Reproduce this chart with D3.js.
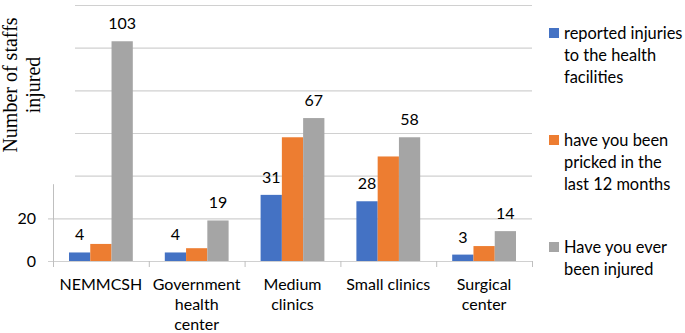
<!DOCTYPE html>
<html>
<head>
<meta charset="utf-8">
<script src="https://cdn.jsdelivr.net/npm/d3@7"></script>
<style>
  body { margin: 0; background: #fff; }
  svg { display: block; }
  text { font-family: Lato, "Open Sans", sans-serif; fill: #000; }
</style>
</head>
<body>
<div id="chart"></div>
<script>
// data
const categories = [["NEMMCSH"], ["Government", "health", "center"], ["Medium", "clinics"], ["Small clinics"], ["Surgical", "center"]];
const reported = [4, 4, 31, 28, 3];
const pricked = [8, 6, 58, 49, 7];
const everInjured = [103, 19, 67, 58, 14];
const seriesNames = [
  ["reported injuries", "to the health", "facilities"],
  ["have you been", "pricked in the", "last 12 months"],
  ["Have you ever", "been injured"]
];
const colors = ["#4472c4", "#ed7d31", "#a5a5a5"];
const gridTicks = [0, 20, 40, 60, 80, 100, 120];
const labelTicks = [0, 20];

const W = 685, H = 333;
const margin = { top: 5, right: 153, bottom: 72, left: 53 };
const width = W - margin.left - margin.right;
const height = H - margin.top - margin.bottom;

const svg = d3.select("#chart").append("svg")
    .attr("width", W)
    .attr("height", H);

const g = svg.append("g")
    .attr("transform", `translate(${margin.left},${margin.top})`);

const x0 = d3.scaleBand()
    .domain(d3.range(categories.length))
    .range([0, width])
    .paddingInner(0)
    .paddingOuter(0);

const x1 = d3.scaleBand()
    .domain([0, 1, 2])
    .range([16, x0.bandwidth() - 16]);

const y = d3.scaleLinear()
    .domain([0, 120])
    .range([height, 0]);

// gridlines (upper ones start a bit to the right, as in the picture)
g.selectAll(".grid")
  .data(gridTicks)
  .enter().append("line")
    .attr("x1", d => d <= 20 ? -5 : 22)
    .attr("x2", width)
    .attr("y1", d => y(d) + 0.5)
    .attr("y2", d => y(d) + 0.5)
    .attr("stroke", "#d0d0d0")
    .attr("stroke-width", 1.2);

// short left axis line
g.append("line")
    .attr("x1", 0.5).attr("x2", 0.5)
    .attr("y1", y(36)).attr("y2", height + 6)
    .attr("stroke", "#bfbfbf");

// category ticks
g.selectAll(".ctick")
  .data(d3.range(categories.length + 1))
  .enter().append("line")
    .attr("x1", i => i * x0.bandwidth() + 0.5)
    .attr("x2", i => i * x0.bandwidth() + 0.5)
    .attr("y1", height)
    .attr("y2", height + 6)
    .attr("stroke", "#bfbfbf");

// y tick labels
g.selectAll(".ylab")
  .data(labelTicks)
  .enter().append("text")
    .attr("x", -17)
    .attr("y", d => y(d))
    .attr("dy", "0.35em")
    .attr("text-anchor", "end")
    .style("font-size", "16px")
    .text(d => d);

// bars
const series = [reported, pricked, everInjured];
series.forEach((vals, s) => {
  g.selectAll(".bar" + s)
    .data(vals)
    .enter().append("rect")
      .attr("x", (d, i) => x0(i) + x1(s))
      .attr("y", d => y(d))
      .attr("width", x1.bandwidth())
      .attr("height", d => height - y(d))
      .attr("fill", colors[s]);
});

// value labels on blue and gray bars
[0, 2].forEach(s => {
  g.selectAll(".vlab" + s)
    .data(series[s])
    .enter().append("text")
      .attr("x", (d, i) => x0(i) + x1(s) + x1.bandwidth() / 2)
      .attr("y", d => y(d) - 12)
      .attr("text-anchor", "middle")
      .style("font-size", "16px")
      .text(d => d);
});

// category labels
categories.forEach((lines, i) => {
  const t = g.append("text")
      .attr("text-anchor", "middle")
      .style("font-size", "16px");
  lines.forEach((ln, k) => {
    t.append("tspan")
      .attr("x", x0(i) + x0.bandwidth() / 2)
      .attr("y", height + 29 + k * 20)
      .text(ln);
  });
});

// y axis title
const yt = svg.append("text")
    .attr("transform", "translate(0,85) rotate(-90)")
    .attr("text-anchor", "middle")
    .style("font-family", "'Liberation Serif', 'Times New Roman', serif")
    .style("font-size", "20px");
yt.append("tspan").attr("x", 0).attr("y", 17).text("Number of staffs");
yt.append("tspan").attr("x", 0).attr("y", 40).text("injured");

// legend
const legendY = [33, 140, 247];
const legend = svg.append("g")
    .attr("transform", "translate(549,0)");
seriesNames.forEach((lines, s) => {
  legend.append("rect")
      .attr("x", 0)
      .attr("y", legendY[s] - 5)
      .attr("width", 10)
      .attr("height", 10)
      .attr("fill", colors[s]);
  const t = legend.append("text")
      .style("font-size", "16.4px");
  lines.forEach((ln, k) => {
    t.append("tspan")
      .attr("x", 15)
      .attr("y", legendY[s] + 6 + k * 22)
      .text(ln);
  });
});
</script>
</body>
</html>
